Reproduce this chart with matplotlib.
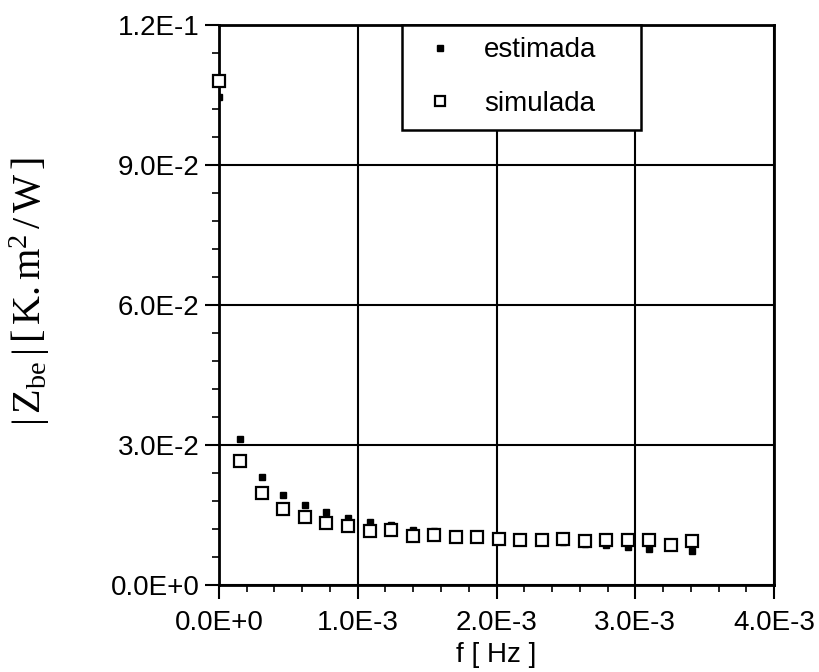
import matplotlib
matplotlib.use("Agg")
import matplotlib.pyplot as plt
from matplotlib.ticker import MultipleLocator, FuncFormatter

plt.rcParams['font.family'] = ['Liberation Sans', 'DejaVu Sans']
plt.rcParams['mathtext.fontset'] = 'custom'
plt.rcParams['mathtext.rm'] = 'Liberation Serif'
plt.rcParams['mathtext.it'] = 'Liberation Serif:italic'

# frequency values [Hz]
freq = [0.0, 1.55e-4, 3.10e-4, 4.65e-4, 6.20e-4, 7.75e-4, 9.30e-4, 1.085e-3,
        1.240e-3, 1.395e-3, 1.550e-3, 1.705e-3, 1.860e-3, 2.015e-3, 2.170e-3,
        2.325e-3, 2.480e-3, 2.635e-3, 2.790e-3, 2.945e-3, 3.100e-3, 3.255e-3,
        3.410e-3]

estimada = [0.1046, 0.0314, 0.0231, 0.0194, 0.0171, 0.0157, 0.0144, 0.0136,
            0.0129, 0.0119, 0.0116, 0.0110, 0.0103, 0.0099, 0.0097, 0.0097,
            0.0093, 0.0088, 0.0086, 0.0081, 0.0077, 0.0081, 0.0074]

simulada = [0.1080, 0.0267, 0.0197, 0.0164, 0.0146, 0.0134, 0.0126, 0.0117,
            0.0118, 0.0106, 0.0107, 0.0103, 0.0103, 0.0100, 0.0097, 0.0097,
            0.0099, 0.0094, 0.0096, 0.0097, 0.0097, 0.0087, 0.0095]

x_ticks = [0.0, 1.0e-3, 2.0e-3, 3.0e-3, 4.0e-3]
y_ticks = [0.0, 0.03, 0.06, 0.09, 0.12]


def sci_fmt(v, pos=None):
    if v == 0:
        return "0.0E+0"
    s = "%.1E" % v
    mant, ex = s.split("E")
    e = int(ex)
    return "%sE%s%d" % (mant, "+" if e >= 0 else "-", abs(e))


fig = plt.figure(figsize=(8.2, 6.72), dpi=100)
ax = fig.add_axes([0.267, 0.129, 0.677, 0.834])

ax.plot(freq, estimada, linestyle='none', marker='s', markersize=5,
        color='black', label='estimada', zorder=3)
ax.plot(freq, simulada, linestyle='none', marker='s', markersize=8.5,
        markerfacecolor='white', markeredgecolor='black', markeredgewidth=1.6,
        label='simulada', zorder=4, clip_on=False)

ax.set_xlim(0, 4.0e-3)
ax.set_ylim(0, 0.12)
ax.set_xticks(x_ticks)
ax.set_yticks(y_ticks)
ax.xaxis.set_major_formatter(FuncFormatter(sci_fmt))
ax.yaxis.set_major_formatter(FuncFormatter(sci_fmt))
ax.xaxis.set_minor_locator(MultipleLocator(2e-4))
ax.yaxis.set_minor_locator(MultipleLocator(0.006))

ax.tick_params(which='major', direction='out', length=10, width=1.5,
               labelsize=20, colors='black')
ax.tick_params(axis='x', which='major', pad=8)
ax.tick_params(axis='y', which='major', pad=4)
ax.tick_params(which='minor', direction='out', length=5, width=1.2)
ax.tick_params(top=False, right=False)

ax.grid(True, which='major', color='black', linewidth=1.5)
ax.set_axisbelow(True)
for sp in ax.spines.values():
    sp.set_linewidth(2)
    sp.set_color('black')

ax.set_xlabel('f [ Hz ]', fontsize=20, labelpad=4)
ax.set_ylabel(r'$|\,\mathrm{Z}_{\mathrm{be}}\,|\,[\,\mathrm{K.m}^{2}\,/\,\mathrm{W}\,]$',
              fontsize=29)
ax.yaxis.set_label_coords(-0.30, 0.525)

leg = ax.legend(loc='upper left', bbox_to_anchor=(0.33, 0.75, 0.43, 0.25),
                mode='expand', fontsize=20,
                frameon=True, fancybox=False, edgecolor='black', framealpha=1,
                borderpad=0.45, labelspacing=1.0, handlelength=1.8,
                handletextpad=0.7, markerscale=0.8, borderaxespad=0)
leg.get_frame().set_linewidth(1.8)

fig.savefig('out.png', dpi=100)
